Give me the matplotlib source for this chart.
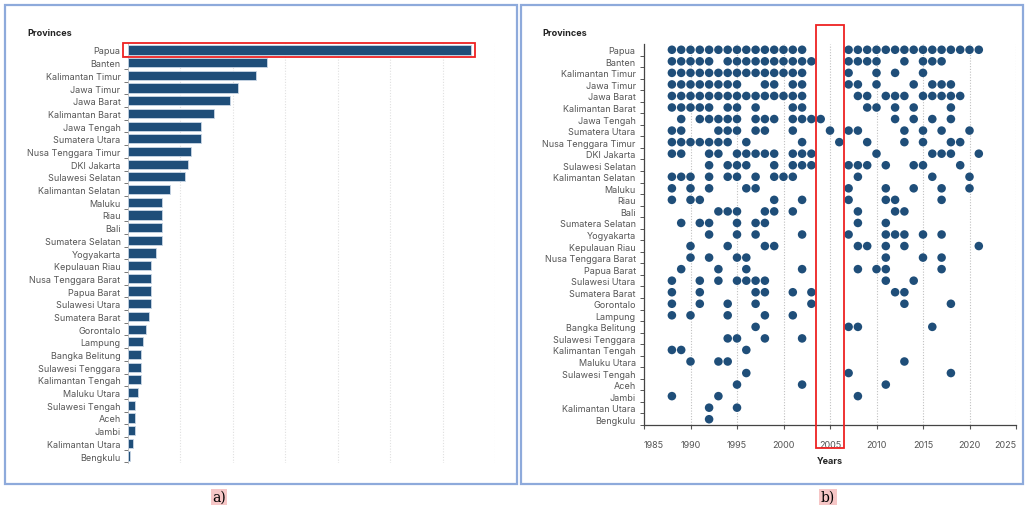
import numpy as np
import matplotlib.pyplot as plt
from matplotlib.patches import Rectangle

plt.rcParams['font.family'] = ['Inter', 'DejaVu Sans']

provinces = ['Papua', 'Banten', 'Kalimantan Timur', 'Jawa Timur', 'Jawa Barat',
             'Kalimantan Barat', 'Jawa Tengah', 'Sumatera Utara', 'Nusa Tenggara Timur',
             'DKI Jakarta', 'Sulawesi Selatan', 'Kalimantan Selatan', 'Maluku', 'Riau',
             'Bali', 'Sumatera Selatan', 'Yogyakarta', 'Kepulauan Riau',
             'Nusa Tenggara Barat', 'Papua Barat', 'Sulawesi Utara', 'Sumatera Barat',
             'Gorontalo', 'Lampung', 'Bangka Belitung', 'Sulawesi Tenggara',
             'Kalimantan Tengah', 'Maluku Utara', 'Sulawesi Tengah', 'Aceh', 'Jambi',
             'Kalimantan Utara', 'Bengkulu']

# panel a) totals per province (read off the bar lengths)
incidents = [131, 53, 49, 42, 39, 33, 28, 28, 24, 23, 22, 16, 13, 13, 13, 13, 11,
             9, 9, 9, 9, 8, 7, 6, 5, 5, 5, 4, 3, 3, 3, 2, 1]

# panel b) years with an event, same order as provinces
event_years = [
    [1988, 1989, 1990, 1991, 1992, 1993, 1994, 1995, 1996, 1997, 1998, 1999, 2000, 2001, 2002,
     2007, 2008, 2009, 2010, 2011, 2012, 2013, 2014, 2015, 2016, 2017, 2018, 2019, 2020, 2021],
    [1988, 1989, 1990, 1991, 1992, 1994, 1995, 1996, 1997, 1998, 1999, 2000, 2001, 2002, 2003,
     2007, 2008, 2009, 2010, 2013, 2015, 2016, 2017],
    [1988, 1989, 1990, 1991, 1992, 1993, 1994, 1995, 1996, 1997, 1998, 1999, 2000, 2001, 2002,
     2007, 2010, 2012, 2015],
    [1988, 1989, 1990, 1991, 1992, 1993, 1994, 1995, 1998, 1999, 2001, 2002,
     2007, 2008, 2010, 2014, 2016, 2017, 2018],
    [1988, 1989, 1990, 1991, 1992, 1993, 1994, 1995, 1996, 1997, 1998, 1999, 2000, 2001, 2002,
     2008, 2009, 2011, 2012, 2013, 2015, 2016, 2017, 2018, 2019],
    [1988, 1989, 1990, 1991, 1992, 1994, 1995, 1997, 2001, 2002, 2009, 2010, 2012, 2014, 2018],
    [1989, 1991, 1992, 1993, 1994, 1995, 1997, 1998, 1999, 2001, 2002, 2003, 2004,
     2012, 2014, 2016, 2018],
    [1988, 1989, 1993, 1994, 1995, 1997, 1998, 2001, 2005, 2007, 2008, 2013, 2015, 2017, 2020],
    [1988, 1989, 1990, 1991, 1992, 1993, 1994, 1996, 2002, 2006, 2009, 2013, 2015, 2018, 2019],
    [1988, 1989, 1992, 1993, 1995, 1996, 1997, 1998, 1999, 2001, 2002, 2003,
     2010, 2016, 2017, 2018, 2021],
    [1992, 1994, 1995, 1996, 1999, 2001, 2002, 2003, 2007, 2008, 2009, 2011, 2014, 2015, 2019],
    [1988, 1989, 1990, 1992, 1994, 1995, 1997, 1999, 2000, 2001, 2008, 2016, 2020],
    [1988, 1990, 1992, 1996, 1997, 2007, 2011, 2014, 2017, 2020],
    [1988, 1990, 1991, 1999, 2002, 2007, 2011, 2012, 2017],
    [1993, 1994, 1995, 1998, 1999, 2001, 2008, 2012, 2013],
    [1989, 1991, 1992, 1995, 1997, 1998, 2008, 2011],
    [1992, 1995, 1997, 2002, 2007, 2011, 2012, 2013, 2015, 2017],
    [1990, 1994, 1998, 1999, 2008, 2009, 2011, 2013, 2021],
    [1990, 1992, 1995, 1996, 2011, 2015, 2017],
    [1989, 1993, 1996, 2002, 2008, 2010, 2011, 2017],
    [1988, 1991, 1993, 1995, 1996, 1997, 1998, 2011, 2014],
    [1988, 1991, 1997, 1998, 2001, 2003, 2012, 2013],
    [1988, 1991, 1994, 1997, 2003, 2013, 2018],
    [1988, 1990, 1994, 1998, 2001],
    [1997, 2007, 2008, 2016],
    [1994, 1995, 1998, 2002],
    [1988, 1989, 1996],
    [1990, 1993, 1994, 2013],
    [1996, 2007, 2018],
    [1995, 2002, 2011],
    [1988, 1993, 2008],
    [1992, 1995],
    [1992],
]

year_ticks = [1985, 1990, 1995, 2000, 2005, 2010, 2015, 2020, 2025]

navy = '#1f4e79'
label_gray = '#555555'
W, H = 1025, 510

fig = plt.figure(figsize=(W / 100, H / 100), dpi=100)
fig.patch.set_facecolor('white')


def fx(px):
    return px / W


def fy(py):
    return 1 - py / H


# panel frames
for x0, x1 in [(5, 517), (521, 1023)]:
    fig.add_artist(Rectangle((fx(x0), fy(485)), fx(x1 - x0), (485 - 6) / H,
                             transform=fig.transFigure, fill=False,
                             edgecolor='#8eaadb', lw=1.6))

n = len(provinces)
ypos = np.arange(n)

# ---- a) bar chart
ax1 = fig.add_axes([fx(127.5), fy(464), fx(495 - 127.5), 420 / H])
ax1.barh(ypos, incidents, height=0.72, color=navy, edgecolor='#c9d6e6', lw=0.6, zorder=3)
ax1.set_xlim(0, 140)
ax1.set_ylim(n - 0.45, -0.55)
ax1.set_xticks([20, 40, 60, 80, 100, 120, 140])
ax1.xaxis.grid(True, ls=(0, (1, 1.5)), color='#e0e0e0', lw=0.8)
ax1.tick_params(axis='x', length=0, labelbottom=False)
ax1.set_yticks(ypos)
ax1.set_yticklabels(provinces, fontsize=6.5, color=label_gray)
ax1.tick_params(axis='y', length=0, pad=5)
ax1.set_yticks(ypos + 0.5, minor=True)
ax1.tick_params(axis='y', which='minor', length=3, color='#777777', width=0.7)
for s in ['top', 'right', 'bottom']:
    ax1.spines[s].set_visible(False)
ax1.spines['left'].set_color('#bbbbbb')
ax1.spines['left'].set_linewidth(0.6)

fig.text(fx(27), fy(34), 'Provinces', fontsize=6.5, fontweight='bold', color='#222222', va='center')
fig.add_artist(Rectangle((fx(123), fy(58)), fx(475 - 123), 14 / H,
                         transform=fig.transFigure, fill=False, edgecolor='#ee2222', lw=1.3))

# ---- b) event timeline
ax2 = fig.add_axes([fx(644), fy(426), fx(1016 - 644), 381 / H])
for i, yrs in enumerate(event_years):
    ax2.scatter(yrs, [i] * len(yrs), s=38, color=navy, edgecolors='none', zorder=3)
ax2.set_xlim(1985, 2025)
ax2.set_ylim(n - 0.5, -0.5)
ax2.set_xticks(year_ticks)
ax2.set_xticklabels([str(y) for y in year_ticks], fontsize=6.5, color=label_gray)
xlabels = ax2.get_xticklabels()
xlabels[0].set_horizontalalignment('left')
xlabels[-1].set_horizontalalignment('right')
ax2.xaxis.grid(True, ls=(0, (1, 1.5)), color='#c0c0c0', lw=0.8)
ax2.tick_params(axis='x', length=3, color='#555555', pad=8)
ax2.set_yticks(ypos)
ax2.set_yticklabels(provinces, fontsize=6.5, color=label_gray)
ax2.tick_params(axis='y', length=0, pad=6)
ax2.set_yticks(ypos + 0.5, minor=True)
ax2.tick_params(axis='y', which='minor', length=3, color='#555555', width=0.7)
for s in ['top', 'right']:
    ax2.spines[s].set_visible(False)
for s in ['left', 'bottom']:
    ax2.spines[s].set_color('#444444')
    ax2.spines[s].set_linewidth(0.9)
ax2.set_xlabel('Years', fontsize=6.5, fontweight='bold', color='#222222', labelpad=5)

fig.text(fx(542), fy(34), 'Provinces', fontsize=6.5, fontweight='bold', color='#222222', va='center')
fig.add_artist(Rectangle((fx(816), fy(449)), fx(844 - 816), (449 - 26) / H,
                         transform=fig.transFigure, fill=False, edgecolor='#ee2222', lw=1.3))

# captions
for x, lab in [(219, 'a)'), (828, 'b)')]:
    fig.text(fx(x), fy(498), lab, fontsize=10, family='DejaVu Serif', ha='center', va='center',
             bbox=dict(boxstyle='square,pad=0.1', facecolor='#f6c6c6', edgecolor='none'))

fig.savefig('out.png', dpi=100)
